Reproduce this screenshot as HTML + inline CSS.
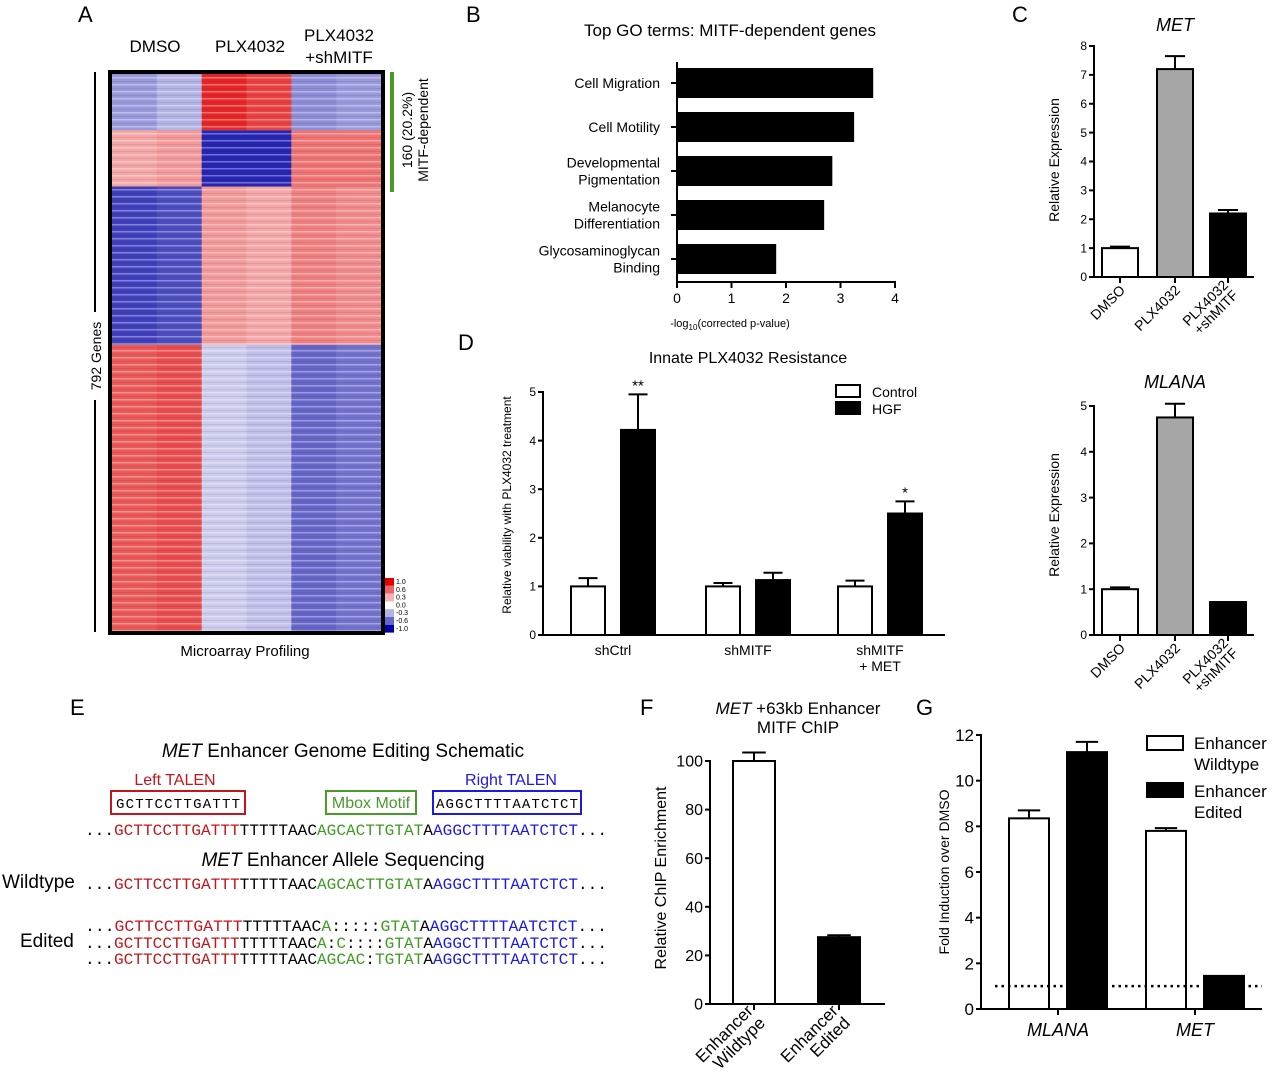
<!DOCTYPE html>
<html><head><meta charset="utf-8">
<style>
html,body{margin:0;padding:0;background:#fff;}
svg{display:block;font-family:"Liberation Sans",sans-serif;}
.mono{font-family:"Liberation Mono",monospace;}
</style></head>
<body>
<svg id="fig" width="1280" height="1082" viewBox="0 0 1280 1082" xmlns="http://www.w3.org/2000/svg">
<defs>
<pattern id="stripes" width="10" height="7" patternUnits="userSpaceOnUse">
<rect x="0" y="0" width="10" height="1.5" fill="#fff" opacity="0.35"/>
<rect x="0" y="4" width="10" height="1" fill="#000" opacity="0.08"/>
</pattern>
</defs>
<g font-size="22" fill="#000">
<text x="78" y="22">A</text><text x="466" y="22">B</text><text x="1012" y="22">C</text>
<text x="458" y="350">D</text><text x="70" y="715">E</text><text x="640" y="715">F</text><text x="916" y="715">G</text>
</g>

<g id="panelA">
<text x="155" y="52" font-size="17" text-anchor="middle">DMSO</text>
<text x="250" y="52" font-size="17" text-anchor="middle">PLX4032</text>
<text x="339" y="41" font-size="17" text-anchor="middle">PLX4032</text>
<text x="339" y="63" font-size="17" text-anchor="middle">+shMITF</text>
<g id="heat"></g>
<rect x="110" y="72" width="273" height="561" fill="none" stroke="#000" stroke-width="4"/>
<line x1="95" y1="72" x2="95" y2="312" stroke="#000" stroke-width="2"/>
<line x1="95" y1="400" x2="95" y2="632" stroke="#000" stroke-width="2"/>
<text transform="translate(101,356) rotate(-90)" font-size="14" text-anchor="middle">792 Genes</text>
<line x1="392" y1="72" x2="392" y2="192" stroke="#4a9a2a" stroke-width="4"/>
<text transform="translate(412,130) rotate(-90)" font-size="14" text-anchor="middle">160 (20.2%)</text>
<text transform="translate(428,130) rotate(-90)" font-size="14" text-anchor="middle">MITF-dependent</text>
<g id="colorLegend"></g>
<text x="245" y="656" font-size="15" text-anchor="middle">Microarray Profiling</text>
</g>

<g id="panelB">
<text x="730" y="36" font-size="17" text-anchor="middle">Top GO terms: MITF-dependent genes</text>
<text x="730" y="327" font-size="11" text-anchor="middle">-log<tspan font-size="8" dy="3">10</tspan><tspan dy="-3">(corrected p-value)</tspan></text>
</g>

<g id="panelE">
<text x="343" y="757" font-size="19" text-anchor="middle"><tspan font-style="italic">MET</tspan> Enhancer Genome Editing Schematic</text>
<text x="175" y="785" font-size="16" fill="#c0161c" text-anchor="middle">Left TALEN</text>
<text x="511" y="785" font-size="16" fill="#1a1ae0" text-anchor="middle">Right TALEN</text>
<rect x="111" y="791" width="134" height="23" fill="none" stroke="#c0161c" stroke-width="2"/>
<text class="mono" x="116" y="808" font-size="14" textLength="124">GCTTCCTTGATTT</text>
<rect x="326" y="791" width="90" height="23" fill="none" stroke="#4a9a2a" stroke-width="2"/>
<text x="371" y="808" font-size="16" fill="#4a9a2a" text-anchor="middle">Mbox Motif</text>
<rect x="433" y="791" width="148" height="23" fill="none" stroke="#1a1ae0" stroke-width="2"/>
<text class="mono" x="436" y="808" font-size="14" textLength="142">AGGCTTTTAATCTCT</text>
<text x="343" y="866" font-size="19" text-anchor="middle"><tspan font-style="italic">MET</tspan> Enhancer Allele Sequencing</text>
<text x="2" y="888" font-size="19">Wildtype</text>
<text x="20" y="947" font-size="19">Edited</text>
<g id="seqs" class="mono" font-size="16"></g>
</g>

<g>
<rect x="836" y="385" width="24" height="12" fill="#fff" stroke="#000" stroke-width="2"/>
<text x="872" y="397" font-size="14">Control</text>
<rect x="836" y="402" width="24" height="12" fill="#000" stroke="#000" stroke-width="2"/>
<text x="872" y="414" font-size="14">HGF</text>
</g>
<g>
<rect x="1147" y="736" width="36" height="14" fill="#fff" stroke="#000" stroke-width="2"/>
<text x="1194" y="749" font-size="17">Enhancer</text><text x="1194" y="770" font-size="17">Wildtype</text>
<rect x="1147" y="783" width="36" height="14" fill="#000" stroke="#000" stroke-width="2"/>
<text x="1194" y="797" font-size="17">Enhancer</text><text x="1194" y="818" font-size="17">Edited</text>
</g>
</svg>
<script>
// ---------- data ----------
const heatBlockGenes = [80, 80, 225, 407];
const heatDMSO1 = [-0.4, 0.35, -0.75, 0.65];
const heatDMSO2 = [-0.3, 0.4, -0.7, 0.7];
const heatPLX1 = [0.85, -0.85, 0.4, -0.2];
const heatPLX2 = [0.75, -0.85, 0.35, -0.25];
const heatSh1 = [-0.45, 0.55, 0.5, -0.6];
const heatSh2 = [-0.4, 0.55, 0.45, -0.55];
const legendTicks = ["1.0","0.6","0.3","0.0","-0.3","-0.6","-1.0"];
const legendVals = [1.0, 0.6, 0.3, 0.0, -0.3, -0.6, -1.0];

const goTerms = [["Cell Migration"],["Cell Motility"],["Developmental","Pigmentation"],["Melanocyte","Differentiation"],["Glycosaminoglycan","Binding"]];
const goValues = [3.6, 3.25, 2.85, 2.7, 1.82];
const goTicks = [0,1,2,3,4];

const metCats = [["DMSO"],["PLX4032"],["PLX4032","+shMITF"]];
const metValues = [1.0, 7.2, 2.2];
const metErr = [0.05, 0.45, 0.12];
const metTicks = [0,1,2,3,4,5,6,7,8];

const mlanaValues = [1.0, 4.75, 0.72];
const mlanaErr = [0.04, 0.3, 0.0];
const mlanaTicks = [0,1,2,3,4,5];

const viaCats = [["shCtrl"],["shMITF"],["shMITF","+ MET"]];
const viaControl = [1.0, 1.0, 1.0];
const viaControlErr = [0.17, 0.07, 0.12];
const viaHGF = [4.22, 1.13, 2.5];
const viaHGFErr = [0.73, 0.15, 0.25];
const viaSig = ["**", "", "*"];
const viaTicks = [0,1,2,3,4,5];

const chipCats = [["Enhancer","Wildtype"],["Enhancer","Edited"]];
const chipValues = [100, 27.5];
const chipErr = [3.5, 0.8];
const chipTicks = [0,20,40,60,80,100];

const foldCats = ["MLANA","MET"];
const foldWT = [8.35, 7.8];
const foldWTErr = [0.35, 0.12];
const foldEd = [11.25, 1.45];
const foldEdErr = [0.45, 0.0];
const foldTicks = [0,2,4,6,8,10,12];
const foldBaseline = 1;

// ---------- helpers ----------
const NS = "http://www.w3.org/2000/svg";
const svg = document.getElementById('fig');
function el(tag, attrs, parent, txt){
  const e = document.createElementNS(NS, tag);
  for (const k in attrs) e.setAttribute(k, attrs[k]);
  if (txt !== undefined) e.textContent = txt;
  (parent || svg).appendChild(e);
  return e;
}
function heatColor(v){
  if (v >= 0){ const t=v; return `rgb(${Math.round(255-(255-225)*t)},${Math.round(255-255*t)},${Math.round(255-255*t)})`; }
  const t=-v; return `rgb(${Math.round(255-255*t)},${Math.round(255-255*t)},${Math.round(255-(255-165)*t)})`;
}

// ---------- heatmap ----------
(function(){
  const g = document.getElementById('heat');
  const cols = [heatDMSO1, heatDMSO2, heatPLX1, heatPLX2, heatSh1, heatSh2];
  const x0 = 112, x1 = 381, y0 = 74, y1 = 631;
  const total = heatBlockGenes.reduce((a,b)=>a+b,0);
  const cw = (x1-x0)/cols.length;
  let acc = 0;
  heatBlockGenes.forEach((n, bi) => {
    const ya = y0 + (y1-y0)*acc/total, yb = y0 + (y1-y0)*(acc+n)/total;
    cols.forEach((col, ci) => {
      const r = el('rect', {x:x0+ci*cw, y:ya, width:cw+0.5, height:yb-ya, fill:heatColor(col[bi])}, g);
      
      
    });
    acc += n;
  });
  el('rect', {x:x0, y:y0, width:x1-x0, height:y1-y0, fill:'url(#stripes)'}, g);
  const lg = document.getElementById('colorLegend');
  legendVals.forEach((v, i) => {
    const r = el('rect', {x:385, y:578+i*7.8, width:9, height:7.8, fill:heatColor(v)}, lg);
    
    
    el('text', {x:396, y:584+i*7.8, 'font-size':7}, lg, legendTicks[i]);
  });
})();

// ---------- GO horizontal bar chart ----------
(function(){
  const g = document.getElementById('panelB');
  const x0 = 677, pxPer = 54.5, yTop = 68, step = 44, bh = 30;
  const X = v => x0 + v*pxPer;
  goValues.forEach((v, i) => {
    const y = yTop + i*step;
    const r = el('rect', {x:X(0), y:y, width:X(v)-X(0), height:bh, fill:'#000'}, g);
    
    
    el('line', {x1:X(0)-6, y1:y+bh/2, x2:X(0), y2:y+bh/2, stroke:'#000', 'stroke-width':2}, g);
    const lines = goTerms[i];
    lines.forEach((t, li) => {
      const ty = y + bh/2 + 5 + (li - (lines.length-1)/2)*17;
      el('text', {x:660, y:ty, 'font-size':14, 'text-anchor':'end'}, g, t);
    });
  });
  el('line', {x1:X(0), y1:62, x2:X(0), y2:283, stroke:'#000', 'stroke-width':2}, g);
  el('line', {x1:X(0)-1, y1:282, x2:X(goTicks[goTicks.length-1])+1, y2:282, stroke:'#000', 'stroke-width':2}, g);
  goTicks.forEach(t => {
    el('line', {x1:X(t), y1:282, x2:X(t), y2:288, stroke:'#000', 'stroke-width':2}, g);
    el('text', {x:X(t), y:303, 'font-size':14, 'text-anchor':'middle'}, g, String(t));
  });
})();

// ---------- generic vertical bar chart ----------
function vChart(o){
  const g = el('g', {});
  
  
  const tmax = o.ticks[o.ticks.length-1];
  const Y = v => o.y0 - (o.y0 - o.yTop) * v / tmax;
  el('line', {x1:o.ax, y1:Y(tmax)-1, x2:o.ax, y2:o.y0+1, stroke:'#000', 'stroke-width':2}, g);
  el('line', {x1:o.ax, y1:o.y0, x2:o.axEnd, y2:o.y0, stroke:'#000', 'stroke-width':2}, g);
  o.ticks.forEach(t => {
    el('line', {x1:o.ax-5, y1:Y(t), x2:o.ax, y2:Y(t), stroke:'#000', 'stroke-width':2}, g);
    el('text', {x:o.ax-7, y:Y(t)+o.tickFs*0.35, 'font-size':o.tickFs, 'text-anchor':'end'}, g, String(t));
  });
  o.bars.forEach(b => {
    const top = Y(b.v);
    if (b.e > 0){
      el('line', {x1:b.x+b.w/2, y1:top, x2:b.x+b.w/2, y2:Y(b.v+b.e), stroke:'#000', 'stroke-width':2}, g);
      el('line', {x1:b.x+b.w/2-b.w*0.28, y1:Y(b.v+b.e), x2:b.x+b.w/2+b.w*0.28, y2:Y(b.v+b.e), stroke:'#000', 'stroke-width':2}, g);
    }
    const r = el('rect', {x:b.x, y:top, width:b.w, height:o.y0-top, fill:b.fill, stroke:'#000', 'stroke-width':2}, g);
    
    
    if (b.sig) el('text', {x:b.x+b.w/2, y:Y(b.v+b.e)-4, 'font-size':15, 'text-anchor':'middle'}, g, b.sig);
  });
  el('text', {transform:`translate(${o.ylx},${o.yly}) rotate(-90)`, 'font-size':o.ylFs, 'text-anchor':'middle'}, g, o.ylabel);
  return {g, Y};
}
function rotLabels(g, cats, xs, y0, fs){
  cats.forEach((lines, i) => {
    el('line', {x1:xs[i], y1:y0, x2:xs[i], y2:y0+6, stroke:'#000', 'stroke-width':2}, g);
    const t = el('text', {transform:`translate(${xs[i]+6},${y0+14}) rotate(-45)`, 'font-size':fs, 'text-anchor':'end'}, g);
    lines.forEach((s, li) => {
      el('tspan', {x:0, dy: li===0 ? (-(lines.length-1)*fs*0.5) : fs}, t, s);
    });
  });
}

// MET
(function(){
  const fills = ['#fff','#a6a6a6','#000'], xs = [1102,1157,1210], w = 36;
  const c = vChart({name:'met-expression-chart', ax:1094, axEnd:1254, y0:277, yTop:46, ticks:metTicks, tickFs:12,
    bars: metValues.map((v,i)=>({x:xs[i], w, v, e:metErr[i], fill:fills[i]})),
    ylabel:'Relative Expression', ylx:1059, yly:160, ylFs:14});
  rotLabels(c.g, metCats, xs.map(x=>x+w/2), 277, 14);
  el('text', {x:1175, y:31, 'font-size':18, 'font-style':'italic', 'text-anchor':'middle'}, c.g, 'MET');
})();
// MLANA
(function(){
  const fills = ['#fff','#a6a6a6','#000'], xs = [1102,1157,1210], w = 36;
  const c = vChart({name:'mlana-expression-chart', ax:1094, axEnd:1254, y0:635, yTop:406, ticks:mlanaTicks, tickFs:12,
    bars: mlanaValues.map((v,i)=>({x:xs[i], w, v, e:mlanaErr[i], fill:fills[i]})),
    ylabel:'Relative Expression', ylx:1059, yly:515, ylFs:14});
  rotLabels(c.g, metCats, xs.map(x=>x+w/2), 635, 14);
  el('text', {x:1175, y:388, 'font-size':18, 'font-style':'italic', 'text-anchor':'middle'}, c.g, 'MLANA');
})();
// Viability
(function(){
  const centers = [613, 748, 880], w = 34, bars = [];
  centers.forEach((cx,i)=>{
    bars.push({x:cx-42, w, v:viaControl[i], e:viaControlErr[i], fill:'#fff'});
    bars.push({x:cx+8, w, v:viaHGF[i], e:viaHGFErr[i], fill:'#000', sig:viaSig[i]});
  });
  const c = vChart({name:'viability-chart', ax:543, axEnd:945, y0:635, yTop:392, ticks:viaTicks, tickFs:12,
    bars, ylabel:'Relative viability with PLX4032 treatment', ylx:511, yly:505, ylFs:12});
  el('text', {x:748, y:363, 'font-size':16, 'text-anchor':'middle'}, c.g, 'Innate PLX4032 Resistance');
  viaCats.forEach((lines,i)=>{
    lines.forEach((s,li)=> el('text', {x:centers[i], y:655+li*16, 'font-size':14, 'text-anchor':'middle'}, c.g, s));
  });
})();
// ChIP
(function(){
  const xs = [733, 818], w = 42, fills = ['#fff','#000'];
  const c = vChart({name:'chip-enrichment-chart', ax:710, axEnd:885, y0:1004, yTop:761, ticks:chipTicks, tickFs:16,
    bars: chipValues.map((v,i)=>({x:xs[i], w, v, e:chipErr[i], fill:fills[i]})),
    ylabel:'Relative ChIP Enrichment', ylx:666, yly:878, ylFs:16});
  rotLabels(c.g, chipCats, xs.map(x=>x+w/2), 1004, 17);
  el('text', {x:798, y:714, 'font-size':17, 'text-anchor':'middle'}, c.g).innerHTML = '<tspan font-style="italic">MET</tspan> +63kb Enhancer';
  el('text', {x:798, y:733, 'font-size':17, 'text-anchor':'middle'}, c.g, 'MITF ChIP');
})();
// Fold induction
(function(){
  const centers = [1058, 1195], w = 40, bars = [];
  centers.forEach((cx,i)=>{
    bars.push({x:cx-49, w, v:foldWT[i], e:foldWTErr[i], fill:'#fff'});
    bars.push({x:cx+9, w, v:foldEd[i], e:foldEdErr[i], fill:'#000'});
  });
  const c = vChart({name:'fold-induction-chart', ax:981, axEnd:1262, y0:1009, yTop:735, ticks:foldTicks, tickFs:17,
    bars, ylabel:'Fold Induction over DMSO', ylx:949, yly:872, ylFs:14});
  const bl = el('line', {x1:995, y1:c.Y(foldBaseline), x2:1262, y2:c.Y(foldBaseline), stroke:'#000', 'stroke-width':2.5, 'stroke-dasharray':'2.5 4'}, c.g);
  
  
  foldCats.forEach((s,i)=>{
    el('line', {x1:centers[i], y1:1009, x2:centers[i], y2:1015, stroke:'#000', 'stroke-width':2}, c.g);
    el('text', {x:centers[i], y:1036, 'font-size':18, 'font-style':'italic', 'text-anchor':'middle'}, c.g, s);
  });
})();

// ---------- sequences ----------
(function(){
  const g = document.getElementById('seqs');
  const R='#c0161c', K='#000', G='#3e9a22', B='#1a1ae0';
  const rows = [
    {y:835, parts:[['...',K],['GCTTCCTTGATTT',R],['TTTTTAAC',K],['AGCACTTGTAT',G],['A',K],['AGGCTTTTAATCTCT',B],['...',K]]},
    {y:889, parts:[['...',K],['GCTTCCTTGATTT',R],['TTTTTAAC',K],['AGCACTTGTAT',G],['A',K],['AGGCTTTTAATCTCT',B],['...',K]]},
    {y:931, parts:[['...',K],['GCTTCCTTGATTT',R],['TTTTTAAC',K],['A',G],[':::::',K],['GTAT',G],['A',K],['AGGCTTTTAATCTCT',B],['...',K]]},
    {y:948, parts:[['...',K],['GCTTCCTTGATTT',R],['TTTTTAAC',K],['A',G],[':',K],['C',G],['::::',K],['GTAT',G],['A',K],['AGGCTTTTAATCTCT',B],['...',K]]},
    {y:964, parts:[['...',K],['GCTTCCTTGATTT',R],['TTTTTAAC',K],['AGCAC',G],[':',K],['TGTAT',G],['A',K],['AGGCTTTTAATCTCT',B],['...',K]]}
  ];
  rows.forEach(r => {
    const t = el('text', {x:85, y:r.y, textLength:522, lengthAdjust:'spacingAndGlyphs'}, g);
    
    
    r.parts.forEach(p => el('tspan', {fill:p[1]}, t, p[0]));
  });
})();
</script>
</body></html>
